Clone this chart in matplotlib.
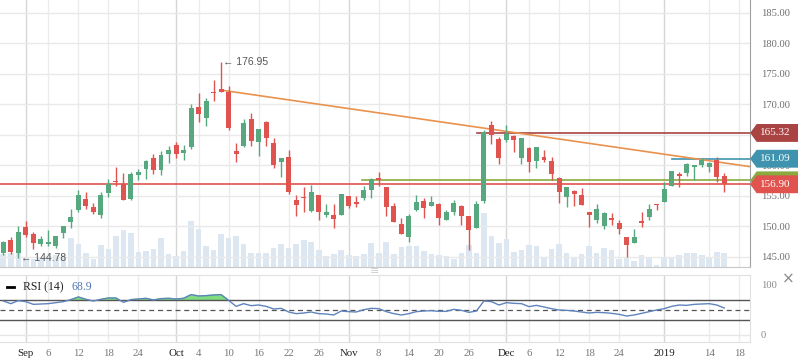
#candlestick chart with volume and rsi panel, redrawn from a screenshot
import matplotlib.pyplot as plt
import matplotlib.transforms as mtransforms
from matplotlib.patches import Polygon
from matplotlib.lines import Line2D
import numpy as np

opens = [145.68, 147.75, 145.68, 149.83, 148.74, 147.15, 147.15, 146.83, 148.90, 150.70,
         152.67, 154.48, 153.16, 151.91, 155.51, 157.37, 156.88, 154.48, 158.41, 159.45,
         161.20, 159.23, 161.91, 163.32, 162.07, 163.05, 169.56, 167.81, 172.02, 172.56,
         172.07, 162.40, 163.22, 167.59, 163.87, 167.10, 163.66, 160.60, 161.36, 154.31,
         154.80, 152.57, 155.13, 151.91, 151.86, 151.91, 154.97, 153.99, 154.69, 156.01,
         157.92, 156.44, 153.27, 150.32, 148.30, 152.67, 154.15, 153.38, 153.66, 151.09,
         152.35, 153.33, 151.69, 149.78, 154.20, 166.61, 164.31, 164.20, 164.75, 161.25,
         162.84, 160.71, 161.36, 160.76, 157.92, 154.86, 155.79, 155.13, 152.35, 151.09,
         150.11, 151.36, 150.54, 148.30, 147.32, 150.87, 151.52, 153.60, 154.04, 156.61,
         158.57, 158.79, 159.78, 160.05, 159.78, 160.87, 158.24]
highs = [147.64, 148.19, 150.05, 150.92, 149.07, 148.41, 149.39, 148.40, 150.10, 152.78,
         155.95, 155.68, 153.77, 155.68, 157.75, 159.67, 158.74, 158.96, 159.39, 160.87,
         161.85, 162.29, 163.16, 163.82, 163.33, 169.99, 171.85, 171.03, 173.99, 176.95,
         173.05, 163.65, 167.59, 168.57, 166.00, 167.26, 164.42, 161.25, 162.51, 155.08,
         156.44, 156.77, 155.15, 153.61, 153.66, 155.30, 154.97, 154.97, 156.61, 157.86,
         158.90, 156.44, 153.82, 151.36, 151.96, 155.13, 154.64, 154.97, 153.82, 152.62,
         154.31, 153.49, 151.69, 154.15, 165.79, 167.26, 164.64, 166.61, 165.02, 164.48,
         163.00, 163.00, 162.51, 161.31, 158.08, 156.44, 155.95, 156.28, 152.35, 153.66,
         152.35, 152.13, 151.03, 148.30, 149.56, 152.35, 153.66, 153.60, 157.26, 159.07,
         158.96, 160.43, 160.00, 161.25, 160.60, 161.36, 158.68]
lows = [145.30, 145.46, 144.78, 148.30, 146.34, 146.77, 146.77, 146.44, 148.14, 149.67,
        152.29, 152.84, 151.96, 151.42, 154.86, 156.61, 154.26, 154.40, 157.59, 157.81,
        158.57, 158.46, 160.43, 161.25, 160.87, 162.73, 167.15, 166.50, 170.60, 172.00,
        165.79, 160.54, 163.06, 163.22, 161.58, 163.22, 159.61, 158.14, 155.35, 151.75,
        152.29, 152.40, 151.09, 151.58, 149.78, 151.91, 153.06, 153.17, 154.31, 154.69,
        156.61, 151.69, 150.76, 148.80, 147.48, 152.51, 151.36, 153.38, 150.21, 151.09,
        151.85, 150.21, 146.12, 149.78, 153.87, 163.54, 160.21, 163.87, 162.18, 160.27,
        158.96, 159.61, 160.54, 157.54, 153.87, 153.22, 153.38, 153.55, 149.94, 150.60,
        149.61, 150.21, 148.74, 144.90, 147.32, 149.94, 151.03, 152.73, 154.04, 156.61,
        156.44, 158.30, 157.59, 159.78, 158.96, 157.32, 155.68]
closes = [147.43, 145.84, 149.07, 148.63, 147.21, 147.92, 147.37, 148.36, 150.05, 151.47,
          155.13, 153.33, 152.34, 155.13, 156.88, 157.21, 154.37, 158.57, 158.96, 160.71,
          159.23, 161.69, 162.51, 161.91, 162.51, 169.45, 168.46, 170.54, 171.91, 172.07,
          166.17, 161.91, 166.99, 164.04, 165.95, 164.53, 160.10, 161.20, 155.68, 153.55,
          154.69, 155.63, 152.40, 152.35, 151.26, 155.30, 153.39, 153.72, 155.95, 157.70,
          157.59, 153.22, 150.76, 148.80, 151.64, 153.99, 153.00, 153.98, 151.42, 152.35,
          153.82, 151.69, 149.45, 153.66, 165.40, 165.02, 161.25, 165.13, 164.20, 164.48,
          160.60, 163.00, 160.92, 158.63, 155.68, 156.44, 155.35, 153.55, 151.91, 152.84,
          152.18, 151.09, 149.61, 146.93, 148.25, 150.60, 152.84, 153.44, 156.12, 159.07,
          158.30, 160.21, 159.99, 160.87, 160.38, 158.14, 156.90]
volumes = [13, 14, 21, 10, 8, 10, 11, 12, 12, 29, 23, 14, 8, 22, 18, 31, 37, 34, 15, 16,
           18, 29, 13, 11, 16, 46, 38, 21, 17, 33, 29, 31, 23, 14, 14, 14, 19, 23, 19, 23,
           27, 25, 17, 11, 13, 17, 12, 11, 13, 24, 14, 25, 13, 20, 21, 21, 16, 13, 12, 11,
           8, 14, 22, 14, 54, 31, 24, 28, 15, 17, 22, 21, 10, 18, 23, 14, 10, 13, 21, 14,
           19, 17, 8, 9, 6, 12, 10, 2, 10, 10, 12, 14, 14, 12, 9, 15, 14]
rsi = [68, 62.7, 68.7, 66.7, 61.3, 62, 62.7, 64.7, 66.7, 70.7, 76, 71.3, 68, 71.3, 74, 74,
       65.3, 70.7, 72, 73.3, 70, 72.7, 73.3, 72, 73.3, 80.7, 78, 78.7, 80, 80.7, 69.3, 57.3,
       62.7, 58.7, 60, 57.3, 52, 53.3, 46, 42.7, 44, 46, 42.7, 42, 40, 48, 46.7, 46, 50.7,
       53.3, 52.7, 46.7, 42.7, 40, 42.7, 46.7, 48, 48.7, 47.3, 47.3, 51.3, 49.3, 45.3, 48,
       68, 66.7, 60, 64.7, 63.3, 62.7, 56.7, 59.3, 56, 52.7, 50, 49.3, 48, 46, 44, 45.3,
       44.7, 43.3, 41.3, 38, 40, 43.3, 46.7, 50, 52.7, 57.3, 60, 59.3, 61.3, 62, 62.7, 60, 54]

tick_pos = [3, 6, 10, 14, 18, 23, 26, 30, 34, 38, 42, 46, 50, 54, 58, 62, 67, 70, 74, 78, 82, 88, 94, 98]
tick_labels = ['Sep', '6', '12', '18', '24', 'Oct', '4', '10', '16', '22', '26', 'Nov',
               '8', '14', '20', '26', 'Dec', '6', '12', '18', '24', '2019', '14', '18']
month_labels = ['Sep', 'Oct', 'Nov', 'Dec', '2019']
price_ticks = [145, 150, 155, 160, 165, 170, 175, 180, 185]

#horizontal levels: value, colour, first bar index
levels = [(157.55, '#8aaa3e', 47.8), (156.90, '#e0534e', -1), (165.32, '#a94442', 63.1), (161.09, '#3f93ae', 89)]
trend_x = [29, 99.4]
trend_y = [172.35, 159.8]

W, H = 798, 363
GREEN = '#57a77f'
RED = '#e0544f'

plt.rcParams['font.family'] = ['Liberation Serif', 'DejaVu Sans']
fig = plt.figure(figsize=(W / 100, H / 100), dpi=100)
fig.patch.set_facecolor('white')

xlim = (-0.44, 99.43)
main_rect = [0, 1 - 267 / H, 750 / W, 267 / H]
ax_vol = fig.add_axes(main_rect)
ax = fig.add_axes(main_rect)
ax.patch.set_visible(False)
ax_rsi = fig.add_axes([0, 1 - 342 / H, 750 / W, 67 / H])

idx = np.arange(len(closes))

#volume bars underneath
ax_vol.bar(idx, volumes, width=0.75, color='#dde7f1', zorder=2)
ax_vol.set_ylim(0, 267)
ax_vol.set_xlim(*xlim)
ax_vol.axis('off')
for a in (ax_vol, ax_rsi):
    for p, lab in zip(tick_pos, tick_labels):
        a.axvline(p, color='#d6d6d6' if lab in month_labels else '#ececec', lw=1, zorder=0)

#price gridlines
for p in price_ticks:
    ax.axhline(p, color='#e9e9e9', lw=1, zorder=0)

#candles
o = np.array(opens)
c = np.array(closes)
colors = [GREEN if cc >= oo else RED for oo, cc in zip(o, c)]
ax.vlines(idx, lows, highs, colors=colors, lw=1.0, zorder=3)
body = np.maximum(np.abs(c - o), 0.12)
ax.bar(idx, body, bottom=np.minimum(o, c), width=0.66, color=colors, zorder=4)

#levels and trend line
for val, col, start in levels:
    ax.plot([start, xlim[1]], [val, val], color=col, lw=1.2, zorder=2)
ax.plot(trend_x, trend_y, color='#e8924e', lw=1.2, zorder=2)

ax.text(29.3, 176.95, '\u2190 176.95', fontsize=7.5, color='#555555', va='center',
        family=['Liberation Sans', 'DejaVu Sans'])
ax.text(2.3, 144.78, '\u2190 144.78', fontsize=7.5, color='#555555', va='center',
        family=['Liberation Sans', 'DejaVu Sans'])

ax.set_xlim(*xlim)
ax.set_ylim(143.33, 187.13)
ax.set_yticks(price_ticks)
#the 165.00 label sits under the 165.32 tag
ax.set_yticklabels(['' if p == 165 else '%.2f' % p for p in price_ticks])
ax.yaxis.tick_right()
ax.tick_params(axis='y', length=0, pad=8, labelsize=7.6, labelcolor='#6e6e6e')
ax.set_xticks([])
for s in ['left', 'top']:
    ax.spines[s].set_visible(False)
ax.spines['right'].set_color('#a0a0a0')
ax.spines['bottom'].set_color('#c8c8c8')

#price tags at the right edge
tag = mtransforms.blended_transform_factory(fig.transFigure, ax.transData)
half = 1.35
for val, col, start in levels:
    xs = np.array([751, 757, 800, 800, 757]) / W
    ys = [val, val + half, val + half, val - half, val - half]
    fig.add_artist(Polygon(list(zip(xs, ys)), closed=True, color=col, transform=tag, zorder=5))
    if val != 157.55:
        fig.text(775 / W, val, '%.2f' % val, transform=tag, color='white', fontsize=8,
                 ha='center', va='center', zorder=6)

#rsi panel
ax_rsi.plot(idx, rsi, color='#5f84bd', lw=1, zorder=3)
r = np.array(rsi)
ax_rsi.fill_between(idx, r, 70, where=r > 70, interpolate=True, color='#7fdc7f', zorder=2)
ax_rsi.axhline(70, color='#555555', lw=1, zorder=2)
ax_rsi.axhline(30, color='#555555', lw=1, zorder=2)
ax_rsi.axhline(50, color='#555555', lw=0.9, ls=(0, (4, 3)), zorder=2)
ax_rsi.axhline(0, color='#e6e6e6', lw=1, zorder=0)
ax_rsi.set_xlim(*xlim)
ax_rsi.set_ylim(-14, 120)
ax_rsi.set_yticks([0, 100])
ax_rsi.yaxis.tick_right()
ax_rsi.tick_params(axis='y', length=0, pad=8, labelsize=7.6, labelcolor='#8a8a8a')
ax_rsi.set_xticks(tick_pos)
ax_rsi.set_xticklabels(tick_labels)
ax_rsi.tick_params(axis='x', length=0, pad=5, labelsize=7.8)
for lab in ax_rsi.get_xticklabels():
    lab.set_color('#222222' if lab.get_text() in month_labels else '#777777')
ax_rsi.spines['left'].set_visible(False)
for s in ['top', 'bottom', 'right']:
    ax_rsi.spines[s].set_color('#e0e0e0')

fig.add_artist(Line2D([7 / W, 14 / W], [1 - 287 / H] * 2, color='black', lw=2))
fig.text(23 / W, 1 - 287 / H, 'RSI (14)', fontsize=8.5, color='#222222', va='center')
fig.text(72 / W, 1 - 287 / H, '68.9', fontsize=8.5, color='#4f75b3', va='center')
fig.text(375 / W, 1 - 271 / H, '\u2261', fontsize=8, color='#cfcfcf', ha='center', va='center',
         family='DejaVu Sans')
fig.text(788 / W, 1 - 279 / H, '\u00d7', fontsize=11, color='#8a8a8a', ha='center', va='center',
         family='DejaVu Sans')

fig.savefig('out.png', dpi=100)
